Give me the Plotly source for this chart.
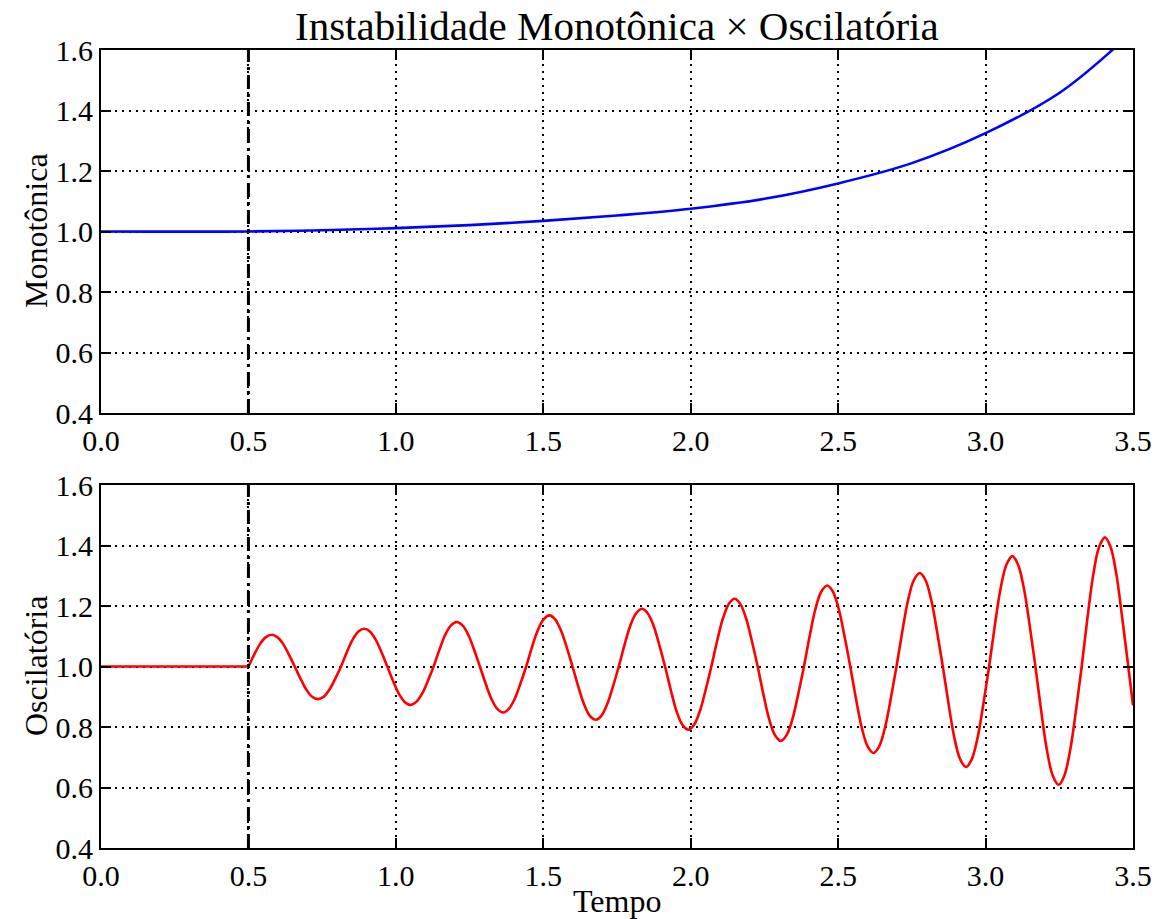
import plotly.graph_objects as go
from plotly.subplots import make_subplots

# ---------------- data ----------------
DISTURBANCE_T = 0.5

MONO_T = [0.0, 0.5, 0.75, 1.0, 1.25, 1.5, 1.75, 2.0, 2.25, 2.5, 2.75, 3.0, 3.25, 3.43, 3.5]
MONO_V = [1.0, 1.0, 1.004, 1.011, 1.021, 1.035, 1.053, 1.075, 1.108, 1.159, 1.226, 1.325, 1.458, 1.6, 1.665]

OSC_PRE_T = [0.0, 0.5]
OSC_PRE_V = [1.0, 1.0]

OSC_T = [
    0.500, 0.520, 0.539, 0.559, 0.579, 0.598, 0.618, 0.637,
    0.657, 0.677, 0.696, 0.716, 0.736, 0.755, 0.775, 0.794,
    0.814, 0.834, 0.853, 0.873, 0.893, 0.912, 0.932, 0.951,
    0.971, 0.991, 1.010, 1.030, 1.050, 1.069, 1.089, 1.108,
    1.128, 1.148, 1.167, 1.187, 1.207, 1.226, 1.246, 1.265,
    1.285, 1.305, 1.324, 1.344, 1.364, 1.383, 1.403, 1.422,
    1.442, 1.462, 1.481, 1.501, 1.521, 1.540, 1.560, 1.579,
    1.599, 1.619, 1.638, 1.658, 1.678, 1.697, 1.717, 1.736,
    1.756, 1.776, 1.795, 1.815, 1.835, 1.854, 1.874, 1.893,
    1.913, 1.933, 1.952, 1.972, 1.992, 2.011, 2.031, 2.050,
    2.070, 2.090, 2.109, 2.129, 2.149, 2.168, 2.188, 2.207,
    2.227, 2.247, 2.266, 2.286, 2.306, 2.325, 2.345, 2.364,
    2.384, 2.404, 2.423, 2.443, 2.463, 2.482, 2.502, 2.521,
    2.541, 2.561, 2.580, 2.600, 2.620, 2.639, 2.659, 2.678,
    2.698, 2.718, 2.737, 2.757, 2.777, 2.796, 2.816, 2.835,
    2.855, 2.875, 2.894, 2.914, 2.934, 2.953, 2.973, 2.992,
    3.012, 3.032, 3.051, 3.071, 3.091, 3.110, 3.130, 3.149,
    3.169, 3.189, 3.208, 3.228, 3.248, 3.267, 3.287, 3.306,
    3.326, 3.346, 3.365, 3.385, 3.405, 3.424, 3.444, 3.463,
    3.484, 3.500,
]
OSC_V = [
    1.000, 1.040, 1.074, 1.097, 1.105, 1.097, 1.074, 1.040,
    1.000, 0.959, 0.924, 0.900, 0.892, 0.900, 0.924, 0.959,
    1.000, 1.048, 1.088, 1.116, 1.125, 1.116, 1.088, 1.048,
    1.000, 0.951, 0.910, 0.883, 0.873, 0.883, 0.910, 0.951,
    1.000, 1.056, 1.104, 1.136, 1.147, 1.136, 1.104, 1.056,
    1.000, 0.942, 0.893, 0.860, 0.848, 0.860, 0.893, 0.942,
    1.000, 1.065, 1.119, 1.156, 1.169, 1.156, 1.119, 1.065,
    1.000, 0.933, 0.876, 0.837, 0.824, 0.837, 0.876, 0.933,
    1.000, 1.073, 1.135, 1.176, 1.191, 1.176, 1.135, 1.073,
    1.000, 0.920, 0.852, 0.807, 0.791, 0.807, 0.852, 0.920,
    1.000, 1.086, 1.158, 1.207, 1.224, 1.207, 1.158, 1.086,
    1.000, 0.906, 0.826, 0.773, 0.754, 0.773, 0.826, 0.906,
    1.000, 1.103, 1.190, 1.248, 1.268, 1.248, 1.190, 1.103,
    1.000, 0.891, 0.798, 0.736, 0.714, 0.736, 0.798, 0.891,
    1.000, 1.118, 1.219, 1.286, 1.309, 1.286, 1.219, 1.118,
    1.000, 0.873, 0.765, 0.693, 0.668, 0.693, 0.765, 0.873,
    1.000, 1.140, 1.258, 1.337, 1.365, 1.337, 1.258, 1.140,
    1.000, 0.850, 0.724, 0.639, 0.609, 0.639, 0.724, 0.850,
    1.000, 1.164, 1.302, 1.395, 1.427, 1.395, 1.302, 1.164,
    1.000, 0.872,
]

X_RANGE = [0.0, 3.5]
Y_RANGE = [0.4, 1.6]
X_TICKS = [0.0, 0.5, 1.0, 1.5, 2.0, 2.5, 3.0, 3.5]
Y_TICKS = [0.4, 0.6, 0.8, 1.0, 1.2, 1.4, 1.6]

TITLE = "Instabilidade Monotônica × Oscilatória"
YLABEL_TOP = "Monotônica"
YLABEL_BOTTOM = "Oscilatória"
XLABEL = "Tempo"

# ---------------- figure ----------------
W, H = 1157, 919
ML, MR, MT, MB = 101, 24, 50, 71
FONT = "Liberation Serif"

fig = make_subplots(rows=2, cols=1, shared_xaxes=False)

fig.add_trace(go.Scatter(x=MONO_T, y=MONO_V, mode="lines",
                         line=dict(color="#0000ff", width=2.6, shape="spline", smoothing=1.0)),
              row=1, col=1)
fig.add_trace(go.Scatter(x=OSC_PRE_T, y=OSC_PRE_V, mode="lines",
                         line=dict(color="#ff0000", width=2.6)), row=2, col=1)
fig.add_trace(go.Scatter(x=OSC_T, y=OSC_V, mode="lines",
                         line=dict(color="#ff0000", width=2.6, shape="spline", smoothing=1.0)),
              row=2, col=1)

for r in (1, 2):
    fig.add_vline(x=DISTURBANCE_T, row=r, col=1,
                  line=dict(color="black", width=3, dash="14px,5px,3px,5px"))

plot_h = H - MT - MB
top_lo = (H - MB - 413) / plot_h
bot_hi = (H - MB - 485) / plot_h

axis_common = dict(
    showline=True, linecolor="black", linewidth=2, mirror="ticks",
    ticks="inside", ticklen=10, tickwidth=1.5, tickcolor="black",
    showgrid=True, gridcolor="black", gridwidth=1.5, griddash="2px,5px",
    zeroline=False, tickfont=dict(family=FONT, size=30, color="black"),
    tickformat=".1f", automargin=False,
)

fig.update_xaxes(range=X_RANGE, tickvals=X_TICKS, **axis_common)
fig.update_yaxes(range=Y_RANGE, tickvals=Y_TICKS, **axis_common)
fig.update_layout(
    yaxis=dict(domain=[top_lo, 1.0]),
    yaxis2=dict(domain=[0.0, bot_hi]),
)

def py(px):
    return (H - MB - px) / plot_h

def pxx(px):
    return (px - ML) / (W - ML - MR)

fig.update_layout(
    width=W, height=H,
    margin=dict(l=ML, r=MR, t=MT, b=MB),
    paper_bgcolor="white", plot_bgcolor="white",
    showlegend=False, hovermode=False,
    font=dict(family=FONT, color="black"),
    annotations=[
        dict(text=TITLE, xref="paper", yref="paper", x=pxx(617), y=py(26),
             xanchor="center", yanchor="middle", showarrow=False,
             font=dict(family=FONT, size=41, color="black")),
        dict(text=YLABEL_TOP, xref="paper", yref="paper", x=pxx(36), y=py(231),
             xanchor="center", yanchor="middle", textangle=-90, showarrow=False,
             font=dict(family=FONT, size=32, color="black")),
        dict(text=YLABEL_BOTTOM, xref="paper", yref="paper", x=pxx(36), y=py(666),
             xanchor="center", yanchor="middle", textangle=-90, showarrow=False,
             font=dict(family=FONT, size=32, color="black")),
        dict(text=XLABEL, xref="paper", yref="paper", x=pxx(617), y=py(901),
             xanchor="center", yanchor="middle", showarrow=False,
             font=dict(family=FONT, size=32, color="black")),
    ],
)

fig.write_html("out.html")
